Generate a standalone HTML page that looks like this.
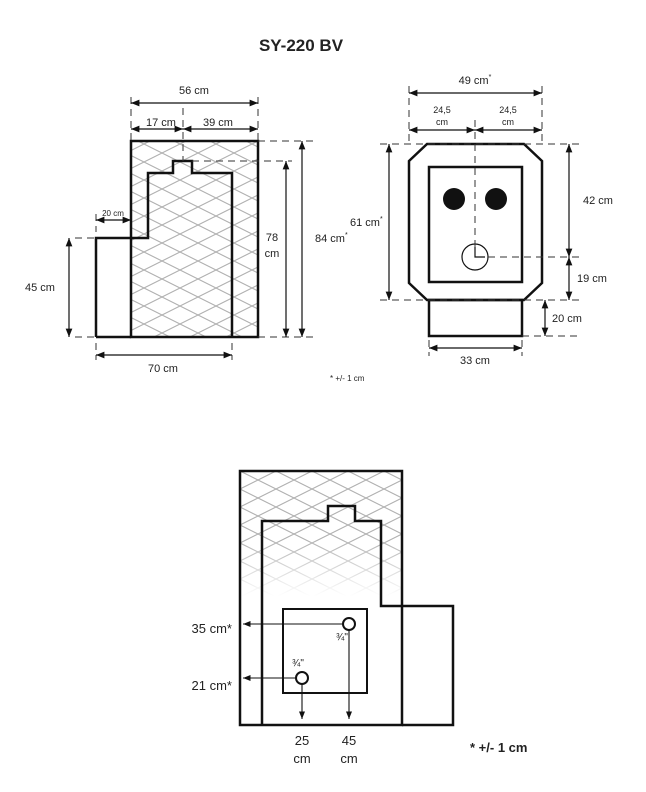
<!DOCTYPE html>
<html><head><style>
body{margin:0;background:#fff}
svg{display:block}
text{font-family:"Liberation Sans",sans-serif;fill:#222}
</style></head><body>
<svg width="646" height="792" viewBox="0 0 646 792" xmlns="http://www.w3.org/2000/svg">
<defs>
<pattern id="h" width="36" height="18" patternUnits="userSpaceOnUse">
<path d="M0,0 L36,18 M0,18 L36,0" stroke="#b0b0b0" stroke-width="1.1" fill="none"/>
</pattern>
<pattern id="h2" x="240" y="471" width="36" height="18" patternUnits="userSpaceOnUse">
<path d="M0,0 L36,18 M0,18 L36,0" stroke="#b0b0b0" stroke-width="1.1" fill="none"/>
</pattern>
<linearGradient id="fg" x1="0" y1="0" x2="0" y2="1">
<stop offset="0" stop-color="#fff"/><stop offset="0.55" stop-color="#fff"/><stop offset="1" stop-color="#000"/>
</linearGradient>
<mask id="fm"><rect x="240" y="471" width="162" height="125" fill="url(#fg)"/></mask>
<marker id="a" viewBox="0 0 10 10" refX="10" refY="5" markerWidth="7" markerHeight="7" orient="auto-start-reverse"><path d="M0,1 L10,5 L0,9z" fill="#111"/></marker>
</defs>

<text x="301" y="51" font-size="17" font-weight="bold" text-anchor="middle" fill="#111">SY-220 BV</text>

<!-- Side view -->
<rect x="131" y="141" width="127" height="196" fill="url(#h)"/>
<g fill="none" stroke="#111" stroke-width="2.5">
<rect x="131" y="141" width="127" height="196"/>
<path d="M96,337 V238 H148 V173 H173 V161 H192 V173 H232 V337 M96,337 H131"/>
</g>
<g stroke="#333" stroke-width="1" stroke-dasharray="7,5" fill="none">
<path d="M131,97 V140 M258,97 V140 M183,108 V161 M258,141 H318 M192,161 H292 M258,337 H318 M75,238 H96 M75,337 H96 M96,214 V232 M96,343 V360 M232,343 V360"/>
</g>
<g stroke="#111" stroke-width="1.2" marker-start="url(#a)" marker-end="url(#a)">
<line x1="131" y1="103" x2="258" y2="103"/>
<line x1="131" y1="129" x2="183" y2="129"/>
<line x1="183" y1="129" x2="258" y2="129"/>
<line x1="286" y1="161" x2="286" y2="337"/>
<line x1="302" y1="141" x2="302" y2="337"/>
<line x1="69" y1="238" x2="69" y2="337"/>
<line x1="96" y1="220" x2="131" y2="220"/>
<line x1="96" y1="355" x2="232" y2="355"/>
</g>
<g font-size="11">
<text x="194" y="94" text-anchor="middle">56 cm</text>
<text x="161" y="126" text-anchor="middle">17 cm</text>
<text x="218" y="126" text-anchor="middle">39 cm</text>
<text x="272" y="241" text-anchor="middle">78</text>
<text x="272" y="257" text-anchor="middle">cm</text>
<text x="315" y="242">84 cm<tspan font-size="7" dy="-5">*</tspan></text>
<text x="40" y="291" text-anchor="middle">45 cm</text>
<text x="113" y="216" text-anchor="middle" font-size="8">20 cm</text>
<text x="163" y="372" text-anchor="middle">70 cm</text>
<text x="330" y="381" font-size="8">* +/- 1 cm</text>
</g>

<!-- Front view -->
<g fill="none" stroke="#111" stroke-width="2.5">
<path d="M427,144 H524 L542,161 V283 L524,300 H427 L409,283 V161 Z"/>
<rect x="429" y="167" width="93" height="115"/>
<rect x="429" y="300" width="93" height="36"/>
</g>
<circle cx="454" cy="199" r="11" fill="#111"/>
<circle cx="496" cy="199" r="11" fill="#111"/>
<circle cx="475" cy="257" r="13" fill="none" stroke="#111" stroke-width="1.2"/>
<path d="M475,247 V257 H485" stroke="#111" stroke-width="1.2" fill="none"/>
<g stroke="#333" stroke-width="1" stroke-dasharray="7,5" fill="none">
<path d="M409,86 V144 M542,86 V144 M475,120 V247 M488,257 H580 M380,144 H580 M380,300 H580 M522,336 H580 M429,340 V356 M522,340 V356"/>
</g>
<g stroke="#111" stroke-width="1.2" marker-start="url(#a)" marker-end="url(#a)">
<line x1="409" y1="93" x2="542" y2="93"/>
<line x1="409" y1="130" x2="475" y2="130"/>
<line x1="475" y1="130" x2="542" y2="130"/>
<line x1="569" y1="144" x2="569" y2="257"/>
<line x1="569" y1="257" x2="569" y2="300"/>
<line x1="389" y1="144" x2="389" y2="300"/>
<line x1="545" y1="300" x2="545" y2="336"/>
<line x1="429" y1="348" x2="522" y2="348"/>
</g>
<g font-size="11">
<text x="475" y="84" text-anchor="middle">49 cm<tspan font-size="7" dy="-5">*</tspan></text>
<text x="442" y="113" text-anchor="middle" font-size="9">24,5</text>
<text x="442" y="125" text-anchor="middle" font-size="9">cm</text>
<text x="508" y="113" text-anchor="middle" font-size="9">24,5</text>
<text x="508" y="125" text-anchor="middle" font-size="9">cm</text>
<text x="583" y="204">42 cm</text>
<text x="577" y="282">19 cm</text>
<text x="552" y="322">20 cm</text>
<text x="475" y="364" text-anchor="middle">33 cm</text>
<text x="350" y="226">61 cm<tspan font-size="7" dy="-5">*</tspan></text>
</g>

<!-- Bottom view -->
<rect x="240" y="471" width="162" height="125" fill="url(#h2)" mask="url(#fm)"/>
<g fill="none" stroke="#111" stroke-width="2.5">
<path d="M240,471 H402 V725 H240 Z"/>
<path d="M262,725 V521 H328 V506 H355 V521 H381 V606 H453 V725 H402"/>
<rect x="283" y="609" width="84" height="84" stroke-width="2"/>
</g>
<circle cx="349" cy="624" r="6" fill="#fff" stroke="#111" stroke-width="2"/>
<circle cx="302" cy="678" r="6" fill="#fff" stroke="#111" stroke-width="2"/>
<g stroke="#111" stroke-width="1.1" marker-end="url(#a)">
<line x1="343" y1="624" x2="243" y2="624"/>
<line x1="296" y1="678" x2="243" y2="678"/>
<line x1="302" y1="684" x2="302" y2="719"/>
<line x1="349" y1="630" x2="349" y2="719"/>
</g>
<g font-size="13">
<text x="232" y="633" text-anchor="end">35 cm*</text>
<text x="232" y="690" text-anchor="end">21 cm*</text>
<text x="302" y="745" text-anchor="middle">25</text>
<text x="302" y="763" text-anchor="middle">cm</text>
<text x="349" y="745" text-anchor="middle">45</text>
<text x="349" y="763" text-anchor="middle">cm</text>
<text x="470" y="752" font-weight="bold" fill="#111">* +/- 1 cm</text>
</g>
<text x="336" y="640" font-size="10">¾"</text>
<text x="292" y="666" font-size="10">¾"</text>
</svg>
</body></html>
